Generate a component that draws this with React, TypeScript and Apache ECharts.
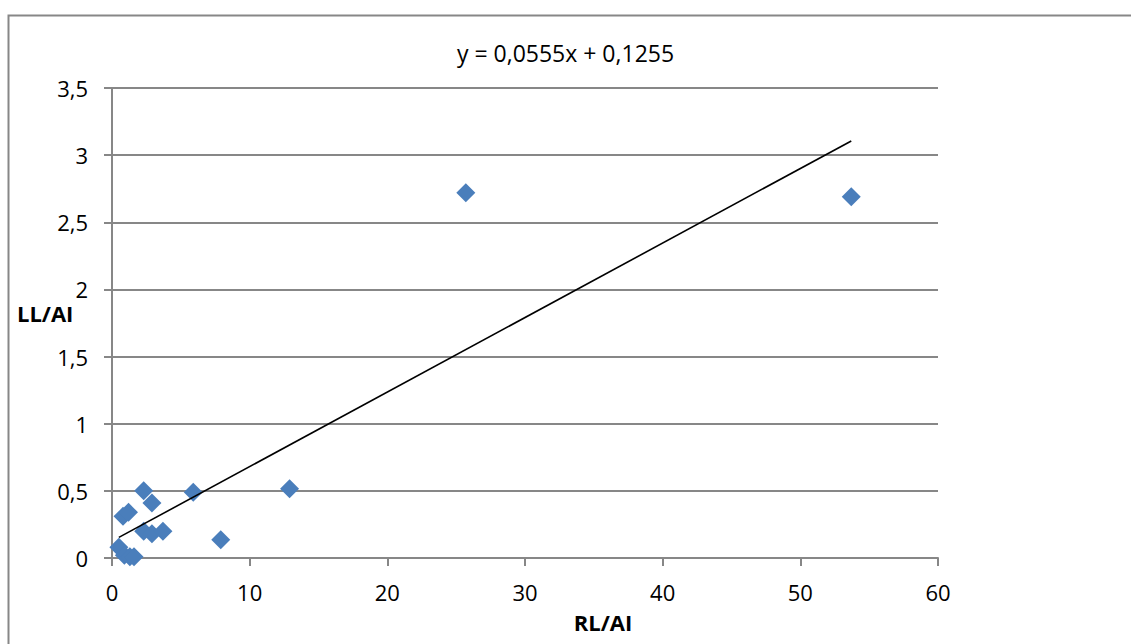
import React, { useEffect, useRef } from "react";
import * as echarts from "echarts";

const xValues = [0.5, 0.9, 1.3, 1.6, 0.8, 1.2, 2.3, 2.9, 2.3, 2.9, 3.7, 5.9, 7.9, 12.9, 25.7, 53.7];
const yValues = [0.08, 0.02, 0.01, 0.01, 0.31, 0.34, 0.5, 0.41, 0.2, 0.18, 0.2, 0.49, 0.135, 0.515, 2.72, 2.69];
const trendSlope = 0.0555;
const trendIntercept = 0.1255;
const titleText = "y = 0,0555x + 0,1255";
const xName = "RL/AI";
const yName = "LL/AI";

const FONT = "'Open Sans', 'Liberation Sans', sans-serif";
const GRAY = "#878787";

export default function App() {
  const ref = useRef<HTMLDivElement>(null);
  useEffect(() => {
    if (!ref.current) return;
    const chart = echarts.init(ref.current, undefined, { renderer: "svg" });
    const points = xValues.map((x, i) => [x, yValues[i]]);
    const xmin = Math.min(...xValues);
    const xmax = Math.max(...xValues);
    const trend = [
      [xmin, trendSlope * xmin + trendIntercept],
      [xmax, trendSlope * xmax + trendIntercept],
    ];
    const fmt = (v: number) => String(v).replace(".", ",");
    chart.setOption({
      animation: false,
      backgroundColor: "#fff",
      textStyle: { fontFamily: FONT },
      title: {
        text: titleText,
        left: "center",
        top: 36,
        textStyle: { fontFamily: FONT, fontSize: 23, fontWeight: "normal", color: "#000" },
      },
      grid: { left: 112, top: 88, right: 193, bottom: 86, containLabel: false },
      xAxis: {
        type: "value",
        min: 0,
        max: 60,
        interval: 10,
        axisLine: { show: true, lineStyle: { color: GRAY, width: 2 } },
        axisTick: { show: true, length: 8, lineStyle: { color: GRAY, width: 2 } },
        splitLine: { show: false },
        axisLabel: { color: "#000", fontSize: 22, fontFamily: FONT, margin: 23, formatter: fmt },
      },
      yAxis: {
        type: "value",
        min: 0,
        max: 3.5,
        interval: 0.5,
        axisLine: { show: true, lineStyle: { color: GRAY, width: 2 } },
        axisTick: { show: true, length: 8, lineStyle: { color: GRAY, width: 2 } },
        splitLine: { show: true, lineStyle: { color: GRAY, width: 2 } },
        axisLabel: { color: "#000", fontSize: 22, fontFamily: FONT, margin: 24, formatter: fmt },
      },
      graphic: [
        {
          type: "rect",
          shape: { x: 8.5, y: 15.5, width: 1300, height: 800 },
          style: { fill: "none", stroke: GRAY, lineWidth: 2 },
          silent: true,
          z: -10,
        },
        {
          type: "text",
          left: 17,
          top: 302,
          style: { text: yName, fontFamily: FONT, fontSize: 22, fontWeight: "bold", fill: "#000" },
        },
        {
          type: "text",
          x: 603,
          y: 622,
          style: {
            text: xName,
            fontFamily: FONT,
            fontSize: 22,
            fontWeight: "bold",
            fill: "#000",
            textAlign: "center",
            textVerticalAlign: "middle",
          },
        },
      ],
      series: [
        {
          type: "line",
          data: trend,
          symbol: "none",
          lineStyle: { color: "#000", width: 1.6 },
          z: 3,
        },
        {
          type: "scatter",
          data: points,
          symbol: "diamond",
          symbolSize: [19, 19],
          itemStyle: { color: "#4A7EBB", opacity: 1 },
          z: 2,
        },
      ],
    });
    return () => chart.dispose();
  }, []);
  return <div ref={ref} style={{ position: "fixed", left: 0, top: 0, width: 1131, height: 644 }} />;
}
